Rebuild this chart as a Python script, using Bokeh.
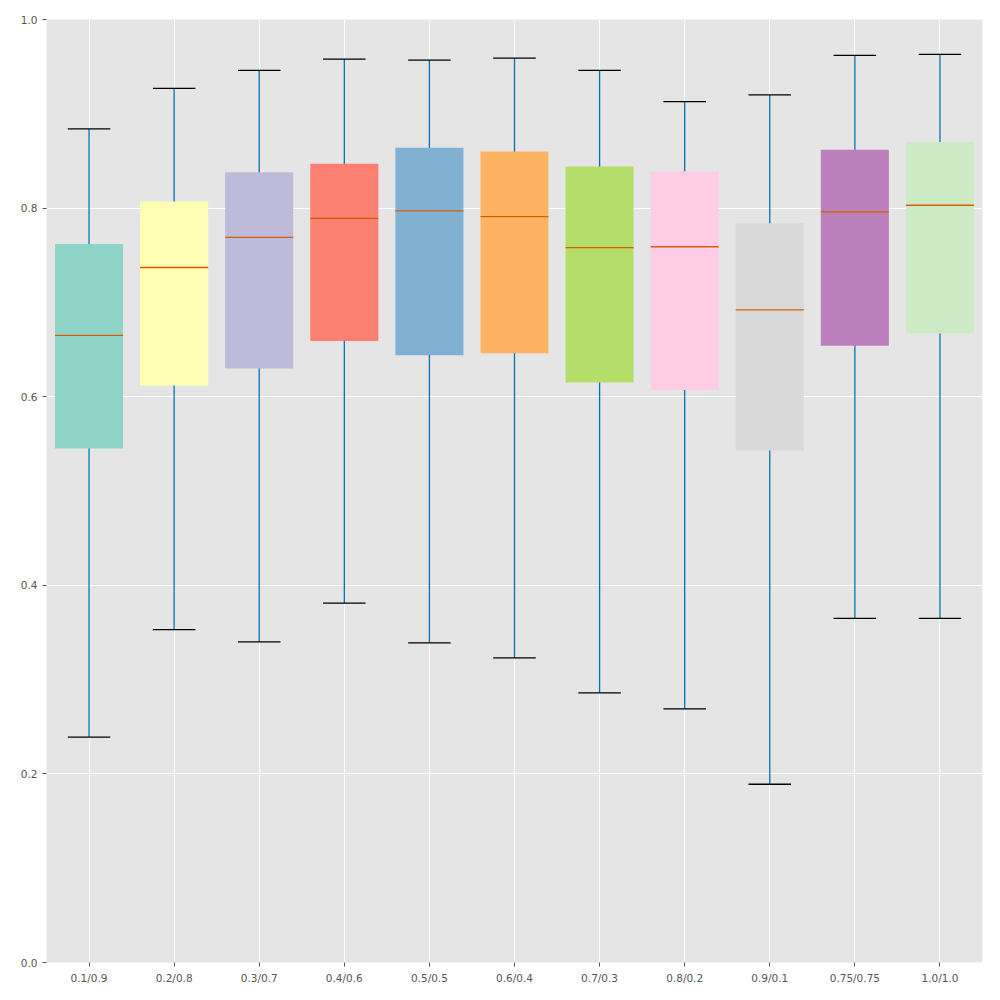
from bokeh.plotting import figure
from bokeh.models import ColumnDataSource, FactorRange, Range1d, FixedTicker, CustomJSTickFormatter
from bokeh.transform import dodge
from bokeh.embed import file_html
from bokeh.resources import INLINE

categories = ["0.1/0.9", "0.2/0.8", "0.3/0.7", "0.4/0.6", "0.5/0.5", "0.6/0.4",
              "0.7/0.3", "0.8/0.2", "0.9/0.1", "0.75/0.75", "1.0/1.0"]
whisker_low = [0.239, 0.353, 0.340, 0.381, 0.339, 0.323, 0.286, 0.269, 0.189, 0.365, 0.365]
q1 = [0.545, 0.612, 0.630, 0.659, 0.644, 0.646, 0.615, 0.607, 0.543, 0.654, 0.667]
median = [0.665, 0.737, 0.769, 0.789, 0.797, 0.791, 0.758, 0.759, 0.692, 0.796, 0.803]
q3 = [0.762, 0.807, 0.838, 0.847, 0.864, 0.860, 0.844, 0.839, 0.784, 0.862, 0.870]
whisker_high = [0.884, 0.927, 0.946, 0.958, 0.957, 0.959, 0.946, 0.913, 0.920, 0.962, 0.963]
colors = ["#8dd3c7", "#ffffb3", "#bebada", "#fb8072", "#80b1d3", "#fdb462",
          "#b3de69", "#fccde5", "#d9d9d9", "#bc80bd", "#ccebc5"]
y_ticks = [0.0, 0.2, 0.4, 0.6, 0.8, 1.0]

src = ColumnDataSource(dict(cat=categories, lo=whisker_low, q1=q1, med=median,
                            q3=q3, hi=whisker_high, color=colors))

p = figure(x_range=FactorRange(factors=categories, range_padding=0.0),
           y_range=Range1d(0, 1), width=992, height=992,
           output_backend="svg", toolbar_location=None,
           min_border_left=46, min_border_right=10, min_border_top=19, min_border_bottom=30)
p.background_fill_color = "#E5E5E5"
p.border_fill_color = "white"
p.outline_line_color = None
p.grid.grid_line_color = "white"
p.grid.grid_line_width = 1

xr = p.x_range
# whiskers
p.segment(x0="cat", y0="lo", x1="cat", y1="hi", source=src, line_color="#0072B2", line_width=1.3)
# boxes
p.vbar(x="cat", bottom="q1", top="q3", width=0.8, source=src, fill_color="color", line_color=None)
# medians
p.segment(x0=dodge("cat", -0.4, range=xr), y0="med", x1=dodge("cat", 0.4, range=xr),
          y1="med", source=src, line_color="#D55E00", line_width=1.3)
# caps
p.segment(x0=dodge("cat", -0.25, range=xr), y0="hi", x1=dodge("cat", 0.25, range=xr),
          y1="hi", source=src, line_color="black", line_width=1.3)
p.segment(x0=dodge("cat", -0.25, range=xr), y0="lo", x1=dodge("cat", 0.25, range=xr),
          y1="lo", source=src, line_color="black", line_width=1.3)

p.yaxis.ticker = FixedTicker(ticks=y_ticks)
p.yaxis.formatter = CustomJSTickFormatter(code="return tick.toFixed(1);")
for ax in (p.xaxis, p.yaxis):
    ax.axis_line_color = None
    ax.major_tick_line_color = "#555555"
    ax.major_tick_out = 4
    ax.major_tick_in = 0
    ax.minor_tick_line_color = None
    ax.major_label_text_color = "#555555"
    ax.major_label_text_font = "DejaVu Sans"
    ax.major_label_text_font_size = "10.5px"
    ax.major_label_standoff = 5

open("out.html", "w").write(file_html(p, INLINE))
